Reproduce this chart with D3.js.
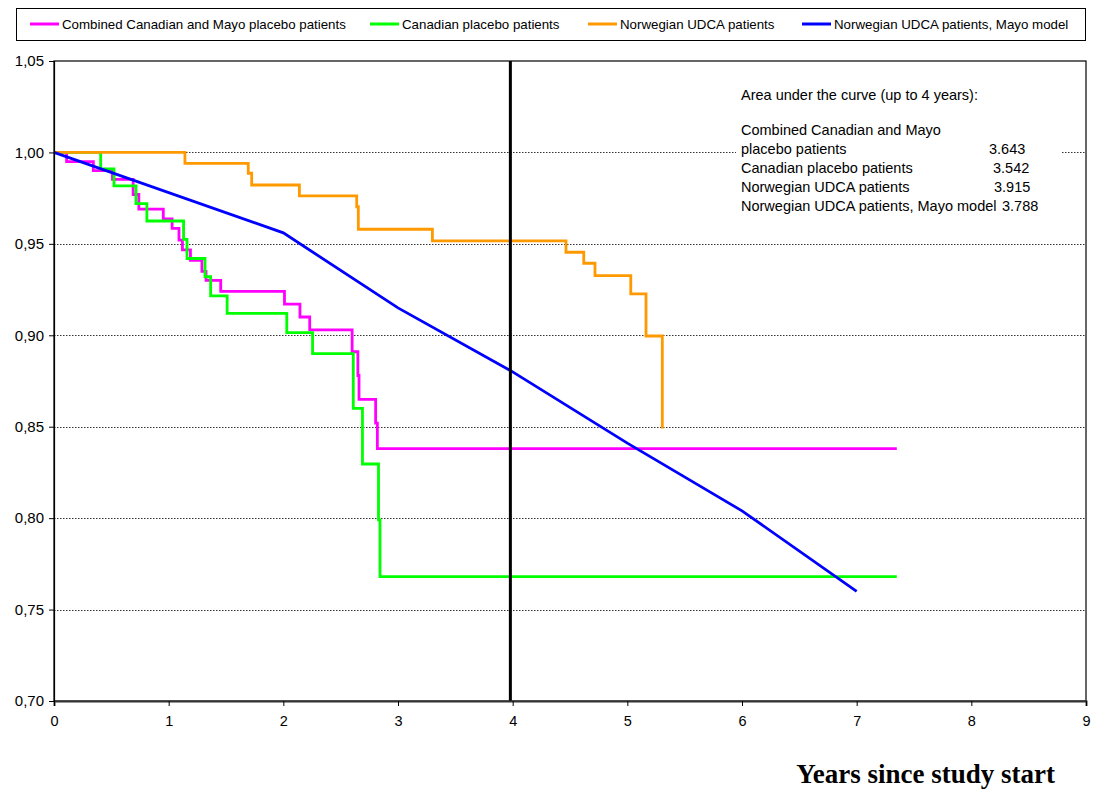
<!DOCTYPE html>
<html>
<head>
<meta charset="utf-8">
<script src="https://cdn.jsdelivr.net/npm/d3@7"></script>
<style>
  body { margin: 0; background: #fff; }
  svg { display: block; }
</style>
</head>
<body>
<svg id="chart" width="1093" height="793"></svg>
<script>
// ---- data ----
const seriesNames = [
  "Combined Canadian and Mayo placebo patients",
  "Canadian placebo patients",
  "Norwegian UDCA patients",
  "Norwegian UDCA patients, Mayo model"
];
const seriesColors = ["#FF00FF", "#00FF00", "#FF9900", "#0000FF"];

const combinedTimes = [0, 0.11, 0.343, 0.51, 0.69, 0.74, 0.953, 1.03, 1.09, 1.12, 1.19, 1.29, 1.326, 1.454, 2.01, 2.145, 2.23, 2.60, 2.65, 2.66, 2.805, 2.82, 7.35];
const combinedSurv  = [1.0, 0.995, 0.990, 0.9853, 0.977, 0.969, 0.9636, 0.9585, 0.952, 0.9467, 0.941, 0.935, 0.930, 0.924, 0.917, 0.910, 0.903, 0.891, 0.878, 0.865, 0.852, 0.838, 0.838];

const canadianTimes = [0, 0.407, 0.523, 0.715, 0.81, 1.13, 1.16, 1.317, 1.366, 1.51, 2.03, 2.255, 2.61, 2.69, 2.83, 2.843, 7.35];
const canadianSurv  = [1.0, 0.991, 0.9817, 0.972, 0.9625, 0.9525, 0.942, 0.932, 0.9215, 0.912, 0.9015, 0.890, 0.860, 0.8296, 0.799, 0.768, 0.768];

const udcaTimes = [0, 1.142, 1.694, 1.724, 2.14, 2.64, 2.654, 3.30, 4.465, 4.62, 4.718, 5.03, 5.163, 5.305];
const udcaSurv  = [1.0, 0.994, 0.9886, 0.9822, 0.9762, 0.9703, 0.958, 0.9516, 0.9454, 0.9394, 0.9326, 0.9226, 0.8996, 0.849];

const mayoTimes = [0, 2, 3, 4, 5, 6, 7];
const mayoSurv  = [1.0, 0.956, 0.915, 0.880, 0.841, 0.804, 0.760];

const xTicks = [0, 1, 2, 3, 4, 5, 6, 7, 8, 9];
const yTicks = [0.70, 0.75, 0.80, 0.85, 0.90, 0.95, 1.00, 1.05];
const gridValues = [0.75, 0.80, 0.85, 0.90, 0.95, 1.00];
const referenceYear = 3.98;

const aucTitle = "Area under the curve (up to 4 years):";
const aucLabels = ["Combined Canadian and Mayo", "placebo patients", "Canadian placebo patients", "Norwegian UDCA patients", "Norwegian UDCA patients, Mayo model"];
const aucValues = ["", "3.643", "3.542", "3.915", "3.788"];
const xTitle = "Years since study start";

// ---- drawing ----
const svg = d3.select("#chart");
const L = 54, R = 1086, T = 61, B = 701;
const x = d3.scaleLinear().domain([0, 9]).range([L, R]);
const y = d3.scaleLinear().domain([0.70, 1.05]).range([B, T]);
const fmtY = v => d3.format(".2f")(v).replace(".", ",");
const sans = "Liberation Sans, Arial, sans-serif";

// legend
const lg = svg.append("g");
lg.append("rect").attr("x", 16.5).attr("y", 8.5).attr("width", 1069).attr("height", 32)
  .attr("fill", "#fff").attr("stroke", "#000").attr("stroke-width", 1);
const legendX = [30, 370, 588, 802];
seriesNames.forEach((n, i) => {
  lg.append("line").attr("x1", legendX[i]).attr("x2", legendX[i] + 29)
    .attr("y1", 24).attr("y2", 24).attr("stroke", seriesColors[i]).attr("stroke-width", 3);
  lg.append("text").attr("x", legendX[i] + 32).attr("y", 29)
    .attr("font-family", sans).attr("font-size", 13.3)
    .text(n);
});

// gridlines
svg.append("g").selectAll("line").data(gridValues).join("line")
  .attr("x1", L).attr("x2", R).attr("y1", d => Math.round(y(d)) + 0.5).attr("y2", d => Math.round(y(d)) + 0.5)
  .attr("stroke", "#333").attr("stroke-width", 1).attr("stroke-dasharray", "1.5,1.5");

// AUC annotation background
svg.append("rect").attr("x", 736).attr("y", 80).attr("width", 326).attr("height", 138).attr("fill", "#fff");
const ann = svg.append("g").attr("font-family", sans).attr("font-size", 14.5).attr("fill", "#000");
ann.append("text").attr("x", 741).attr("y", 100).text(aucTitle);
const lineY = [135, 153.5, 172.5, 191.5, 210.5];
const valX = [0, 989, 993, 994, 1002];
aucLabels.forEach((t, i) => {
  ann.append("text").attr("x", 741).attr("y", lineY[i]).text(t);
  if (aucValues[i]) ann.append("text").attr("x", valX[i]).attr("y", lineY[i]).text(aucValues[i]);
});

// curves
const stepLine = d3.line().x(d => x(d[0])).y(d => y(d[1])).curve(d3.curveStepAfter);
const linLine = d3.line().x(d => x(d[0])).y(d => y(d[1]));
const curves = [
  { t: combinedTimes, s: combinedSurv, gen: stepLine, c: seriesColors[0] },
  { t: canadianTimes, s: canadianSurv, gen: stepLine, c: seriesColors[1] },
  { t: udcaTimes, s: udcaSurv, gen: stepLine, c: seriesColors[2] },
  { t: mayoTimes, s: mayoSurv, gen: linLine, c: seriesColors[3] }
];
curves.forEach(cv => {
  svg.append("path").datum(d3.zip(cv.t, cv.s)).attr("d", cv.gen)
    .attr("fill", "none").attr("stroke", cv.c).attr("stroke-width", 2.8)
    .attr("stroke-linejoin", "miter");
});

// reference vertical line
svg.append("line").attr("x1", x(referenceYear)).attr("x2", x(referenceYear))
  .attr("y1", T).attr("y2", B).attr("stroke", "#000").attr("stroke-width", 3);

// plot frame
svg.append("rect").attr("x", L).attr("y", T).attr("width", R - L).attr("height", B - T)
  .attr("fill", "none").attr("stroke", "#000").attr("stroke-width", 1.2);

// axes
const xAxis = d3.axisBottom(x).tickValues(xTicks).tickSize(5).tickPadding(10).tickFormat(d3.format("d"));
const gx = svg.append("g").attr("transform", `translate(0,${B})`).call(xAxis);
gx.select(".domain").attr("stroke", "#333").attr("stroke-width", 2);
gx.selectAll("text").attr("font-family", sans).attr("font-size", 14.5);

const yAxis = d3.axisLeft(y).tickValues(yTicks).tickSize(5).tickPadding(5).tickFormat(fmtY);
const gy = svg.append("g").attr("transform", `translate(${L},0)`).call(yAxis);
gy.select(".domain").attr("stroke", "#000").attr("stroke-width", 1.2);
gy.selectAll("text").attr("font-family", sans).attr("font-size", 15);

// x title
svg.append("text").attr("x", 1055).attr("y", 783).attr("text-anchor", "end")
  .attr("font-family", "Liberation Serif, Times New Roman, serif").attr("font-weight", "bold")
  .attr("font-size", 27).text(xTitle);
</script>
</body>
</html>
